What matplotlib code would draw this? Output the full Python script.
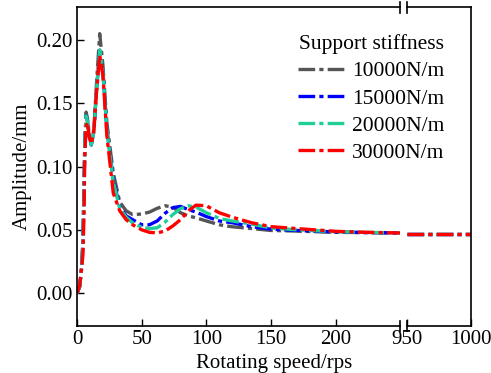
import matplotlib.pyplot as plt
from matplotlib.lines import Line2D

plt.rcParams['font.family'] = ['Liberation Serif', 'DejaVu Serif']
plt.rcParams['lines.scale_dashes'] = False

# rotating speed (rps), left part of the broken axis
speed = [0, 2, 3.5, 4.5, 5.3, 6, 7, 8, 9.5, 11, 13, 15, 17.5, 20, 23, 28, 33, 38, 43,
         50, 56, 62, 68, 74, 80, 86, 92, 100, 110, 120, 135, 150, 170, 200, 225, 250]
amp_10000 = [0, 0.005, 0.02, 0.04, 0.08, 0.12, 0.143, 0.138, 0.124, 0.118, 0.13, 0.165, 0.205,
             0.18, 0.135, 0.095, 0.072, 0.065, 0.062, 0.0625, 0.064, 0.067, 0.069, 0.068,
             0.0635, 0.061, 0.0595, 0.057, 0.054, 0.0524, 0.051, 0.0495, 0.049, 0.048, 0.0478, 0.0475]
amp_15000 = [0, 0.005, 0.02, 0.04, 0.08, 0.12, 0.14, 0.136, 0.123, 0.117, 0.128, 0.16, 0.192,
             0.175, 0.13, 0.09, 0.068, 0.061, 0.058, 0.054, 0.054, 0.057, 0.063, 0.0675,
             0.0685, 0.066, 0.064, 0.0605, 0.057, 0.0556, 0.0525, 0.0505, 0.0495, 0.0483, 0.0478, 0.0475]
amp_20000 = [0, 0.005, 0.02, 0.04, 0.08, 0.12, 0.14, 0.136, 0.123, 0.117, 0.128, 0.16, 0.192,
             0.175, 0.13, 0.088, 0.067, 0.060, 0.0555, 0.052, 0.051, 0.0516, 0.056, 0.062,
             0.0667, 0.069, 0.068, 0.0635, 0.059, 0.057, 0.0545, 0.0515, 0.050, 0.0485, 0.048, 0.0475]
amp_30000 = [0, 0.006, 0.02, 0.03, 0.06, 0.11, 0.132, 0.135, 0.123, 0.118, 0.128, 0.158, 0.188,
             0.172, 0.125, 0.079, 0.065, 0.058, 0.054, 0.050, 0.048, 0.0476, 0.049, 0.053,
             0.058, 0.065, 0.0695, 0.069, 0.0635, 0.060, 0.0556, 0.0525, 0.051, 0.0488, 0.048, 0.0475]

# right part of the broken axis
speed_hi = [950, 1000]
amp_hi = [0.047, 0.047]

labels = ['10000N/m', '15000N/m', '20000N/m', '30000N/m']
colors = ['#555555', '#0000ff', '#1ecf98', '#ff0000']
series = [amp_10000, amp_15000, amp_20000, amp_30000]
dash = (0, (12, 3, 3, 3))

fig = plt.figure(figsize=(4.91, 3.73), dpi=100)
ax1 = fig.add_axes([0.157, 0.126, 0.658, 0.855])
ax2 = fig.add_axes([0.829, 0.126, 0.130, 0.855], sharey=ax1)

for y, c in zip(series, colors):
    ax1.plot(speed, y, color=c, lw=2.4, linestyle=dash)
    ax2.plot(speed_hi, amp_hi, color=c, lw=2.4, linestyle=dash)

ax1.set_xlim(0, 250)
ax2.set_xlim(950, 1000)
ax1.set_ylim(-0.026, 0.226)
ax1.set_xticks([0, 50, 100, 150, 200])
ax2.set_xticks([950, 1000])
ax1.set_yticks([0, 0.05, 0.10, 0.15, 0.20])
ax1.yaxis.set_major_formatter(plt.FormatStrFormatter('%.2f'))

ax1.spines['right'].set_visible(False)
ax2.spines['left'].set_visible(False)
for ax in (ax1, ax2):
    ax.tick_params(direction='in', length=5, width=1, labelsize=15, pad=3,
                   top=False, right=False)
    for s in ax.spines.values():
        s.set_linewidth(1.2)
ax2.tick_params(left=False, labelleft=False)

# break marks
for ax, xp in ((ax1, 1.0), (ax2, 0.0)):
    for yp in (0.0, 1.0):
        ax.plot([xp, xp], [yp - 0.017, yp + 0.017], transform=ax.transAxes,
                color='k', lw=1.2, clip_on=False)

ax1.set_ylabel('Amplitude/mm', fontsize=15, labelpad=3)
fig.text(0.558, 0.001, 'Rotating speed/rps', fontsize=15, ha='center', va='bottom')

handles = [Line2D([], [], color=c, lw=2.4, linestyle=dash) for c in colors]
leg = fig.legend(handles, labels, title='Support stiffness', loc='upper left',
                 bbox_to_anchor=(0.585, 0.937), frameon=False, fontsize=15.5,
                 title_fontsize=15.5, handlelength=2.3, handletextpad=0.2,
                 labelspacing=0.33, borderpad=0)

fig.savefig('out.png', dpi=100)
